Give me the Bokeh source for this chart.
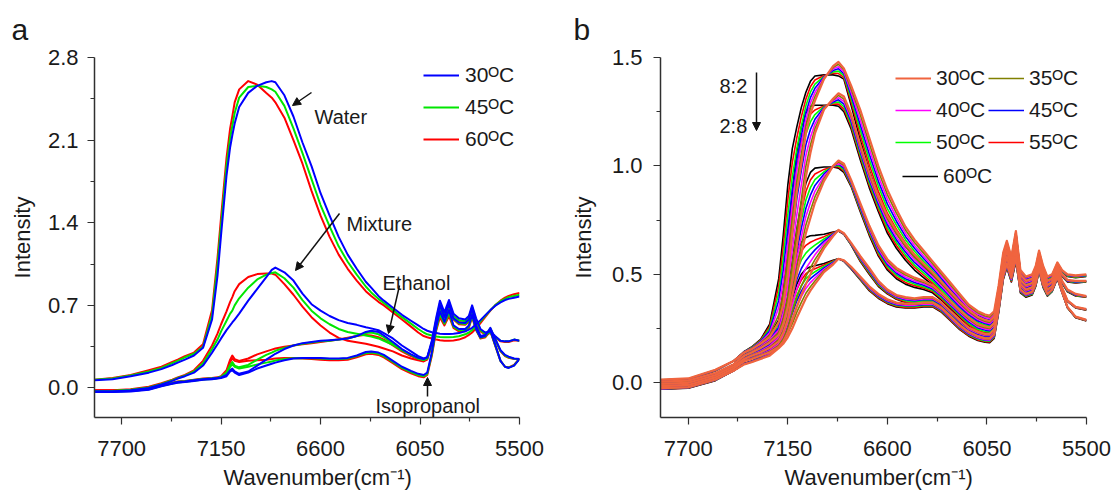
import math
from bokeh.plotting import figure
from bokeh.layouts import row
from bokeh.models import (Range1d, FixedTicker, PrintfTickFormatter, Label, Arrow,
                          NormalHead, Legend, LegendItem, Title)
from bokeh.embed import file_html
from bokeh.resources import INLINE

FONT = "Liberation Sans"
TXT = "#1a1a1a"

# ---------------- panel a data (wavenumber, intensity) ----------------
wn_a = [7850, 7750, 7650, 7550, 7480, 7420, 7390, 7350, 7300, 7250,
        7200, 7170, 7150, 7120, 7100, 7088, 7075, 7050, 7000, 6950,
        6900, 6870, 6850, 6800, 6750, 6700, 6650, 6600, 6550, 6500,
        6450, 6400, 6350, 6320, 6280, 6250, 6200, 6150, 6100, 6060,
        6030, 6010, 5985, 5960, 5940, 5915, 5890, 5865, 5835, 5800,
        5780, 5762, 5740, 5716, 5690, 5661, 5635, 5605, 5580, 5560,
        5530, 5500]
temps_a = ["30", "45", "60"]

water_30 = [0.065, 0.075, 0.10, 0.13, 0.16, 0.195, 0.215, 0.24, 0.275, 0.34,
            0.58, 0.95, 1.30, 1.80, 2.04, 2.14, 2.24, 2.38, 2.50, 2.56,
            2.59, 2.60, 2.59, 2.48, 2.30, 2.08, 1.88, 1.65, 1.46, 1.28,
            1.13, 1.01, 0.90, 0.85, 0.78, 0.74, 0.68, 0.62, 0.57, 0.53,
            0.50, 0.485, 0.472, 0.465, 0.46, 0.457, 0.457, 0.46, 0.465, 0.48,
            0.495, 0.51, 0.54, 0.575, 0.615, 0.66, 0.695, 0.725, 0.745, 0.755,
            0.765, 0.775]
water_45 = [0.07, 0.08, 0.105, 0.14, 0.17, 0.21, 0.23, 0.26, 0.29, 0.35,
            0.62, 1.04, 1.38, 1.88, 2.12, 2.22, 2.33, 2.46, 2.55, 2.56,
            2.55, 2.53, 2.51, 2.39, 2.20, 1.99, 1.77, 1.55, 1.37, 1.20,
            1.07, 0.96, 0.86, 0.81, 0.755, 0.72, 0.66, 0.60, 0.545, 0.50,
            0.47, 0.455, 0.445, 0.437, 0.432, 0.43, 0.43, 0.432, 0.438, 0.455,
            0.47, 0.49, 0.525, 0.565, 0.61, 0.66, 0.70, 0.735, 0.755, 0.77,
            0.78, 0.79]
water_60 = [0.07, 0.085, 0.11, 0.15, 0.18, 0.22, 0.24, 0.27, 0.30, 0.37,
            0.66, 1.10, 1.45, 1.95, 2.20, 2.30, 2.42, 2.53, 2.60, 2.57,
            2.50, 2.46, 2.42, 2.29, 2.10, 1.90, 1.67, 1.46, 1.28, 1.13,
            1.01, 0.91, 0.82, 0.78, 0.73, 0.70, 0.64, 0.58, 0.52, 0.47,
            0.44, 0.43, 0.42, 0.41, 0.405, 0.40, 0.40, 0.403, 0.41, 0.43,
            0.45, 0.47, 0.505, 0.55, 0.60, 0.655, 0.70, 0.74, 0.765, 0.78,
            0.795, 0.805]
mix_30 = [-0.03, -0.03, -0.02, 0.0, 0.03, 0.06, 0.08, 0.10, 0.13, 0.19,
          0.30, 0.37, 0.42, 0.49, 0.53, 0.555, 0.58, 0.63, 0.74, 0.84,
          0.94, 1.00, 1.02, 0.98, 0.91, 0.80, 0.71, 0.655, 0.61, 0.575,
          0.55, 0.535, 0.515, 0.505, 0.49, 0.465, 0.42, 0.36, 0.31, 0.27,
          0.25, 0.26, 0.40, 0.60, 0.74, 0.64, 0.745, 0.63, 0.59, 0.58,
          0.61, 0.70, 0.59, 0.50, 0.47, 0.48, 0.44, 0.40, 0.395, 0.395,
          0.41, 0.40]
mix_45 = [-0.025, -0.025, -0.015, 0.005, 0.035, 0.065, 0.085, 0.105, 0.14, 0.21,
          0.33, 0.41, 0.48, 0.57, 0.63, 0.655, 0.70, 0.76, 0.85, 0.92,
          0.96, 0.975, 0.98, 0.93, 0.85, 0.745, 0.655, 0.59, 0.54, 0.50,
          0.475, 0.46, 0.445, 0.435, 0.42, 0.40, 0.365, 0.32, 0.28, 0.25,
          0.237, 0.25, 0.385, 0.58, 0.72, 0.62, 0.725, 0.61, 0.575, 0.565,
          0.595, 0.685, 0.575, 0.49, 0.46, 0.47, 0.435, 0.40, 0.395, 0.395,
          0.41, 0.40]
mix_60 = [-0.02, -0.02, -0.01, 0.01, 0.04, 0.07, 0.09, 0.11, 0.15, 0.23,
          0.36, 0.46, 0.54, 0.65, 0.73, 0.77, 0.82, 0.88, 0.94, 0.965,
          0.97, 0.97, 0.96, 0.88, 0.79, 0.69, 0.60, 0.53, 0.47, 0.425,
          0.40, 0.387, 0.375, 0.365, 0.35, 0.335, 0.31, 0.275, 0.25, 0.235,
          0.225, 0.24, 0.37, 0.56, 0.70, 0.60, 0.705, 0.59, 0.56, 0.55,
          0.58, 0.67, 0.56, 0.48, 0.455, 0.465, 0.43, 0.395, 0.39, 0.39,
          0.405, 0.40]
eth_30 = [-0.03, -0.03, -0.025, -0.01, 0.02, 0.04, 0.05, 0.055, 0.065, 0.075,
          0.08, 0.085, 0.09, 0.11, 0.15, 0.165, 0.14, 0.12, 0.14, 0.19,
          0.24, 0.27, 0.29, 0.33, 0.36, 0.38, 0.39, 0.40, 0.405, 0.41,
          0.42, 0.44, 0.475, 0.485, 0.475, 0.445, 0.39, 0.33, 0.285, 0.255,
          0.245, 0.26, 0.38, 0.57, 0.70, 0.60, 0.71, 0.59, 0.555, 0.55,
          0.58, 0.67, 0.53, 0.44, 0.45, 0.49, 0.37, 0.23, 0.18, 0.17,
          0.19, 0.245]
eth_45 = [-0.025, -0.025, -0.02, -0.005, 0.022, 0.042, 0.052, 0.057, 0.067, 0.077,
          0.082, 0.087, 0.095, 0.13, 0.195, 0.22, 0.19, 0.175, 0.195, 0.24,
          0.28, 0.30, 0.315, 0.34, 0.36, 0.375, 0.385, 0.395, 0.40, 0.41,
          0.42, 0.44, 0.465, 0.47, 0.455, 0.43, 0.375, 0.32, 0.28, 0.25,
          0.24, 0.255, 0.37, 0.56, 0.68, 0.595, 0.70, 0.585, 0.548, 0.543,
          0.57, 0.655, 0.525, 0.435, 0.44, 0.485, 0.365, 0.23, 0.18, 0.172,
          0.192, 0.248]
eth_60 = [-0.02, -0.02, -0.015, 0.0, 0.025, 0.045, 0.055, 0.06, 0.07, 0.08,
          0.085, 0.09, 0.10, 0.15, 0.24, 0.275, 0.245, 0.23, 0.25, 0.285,
          0.31, 0.325, 0.335, 0.35, 0.36, 0.37, 0.38, 0.39, 0.40, 0.41,
          0.425, 0.44, 0.45, 0.445, 0.43, 0.41, 0.36, 0.31, 0.27, 0.245,
          0.235, 0.25, 0.36, 0.55, 0.665, 0.59, 0.69, 0.58, 0.54, 0.535,
          0.56, 0.64, 0.52, 0.43, 0.43, 0.48, 0.36, 0.23, 0.18, 0.175,
          0.195, 0.25]
iso_30 = [-0.035, -0.035, -0.03, -0.015, 0.015, 0.035, 0.045, 0.05, 0.06, 0.07,
          0.075, 0.08, 0.085, 0.10, 0.14, 0.15, 0.13, 0.11, 0.13, 0.165,
          0.19, 0.205, 0.215, 0.235, 0.25, 0.255, 0.255, 0.255, 0.25, 0.25,
          0.255, 0.275, 0.305, 0.31, 0.30, 0.28, 0.23, 0.18, 0.145, 0.12,
          0.11, 0.13, 0.30, 0.52, 0.65, 0.56, 0.66, 0.53, 0.50, 0.50,
          0.53, 0.62, 0.50, 0.43, 0.44, 0.51, 0.42, 0.32, 0.28, 0.265,
          0.25, 0.245]
iso_45 = [-0.03, -0.03, -0.025, -0.01, 0.017, 0.037, 0.047, 0.052, 0.062, 0.072,
          0.077, 0.082, 0.09, 0.115, 0.18, 0.20, 0.18, 0.165, 0.18, 0.20,
          0.215, 0.225, 0.232, 0.245, 0.252, 0.255, 0.252, 0.25, 0.245, 0.245,
          0.25, 0.27, 0.295, 0.30, 0.29, 0.27, 0.22, 0.17, 0.135, 0.11,
          0.10, 0.12, 0.285, 0.505, 0.625, 0.545, 0.635, 0.52, 0.49, 0.49,
          0.52, 0.61, 0.495, 0.425, 0.435, 0.505, 0.415, 0.315, 0.275, 0.26,
          0.248, 0.245]
iso_60 = [-0.025, -0.025, -0.02, -0.005, 0.02, 0.04, 0.05, 0.055, 0.065, 0.075,
          0.08, 0.085, 0.095, 0.13, 0.22, 0.25, 0.23, 0.22, 0.23, 0.235,
          0.24, 0.245, 0.25, 0.255, 0.255, 0.25, 0.245, 0.24, 0.235, 0.235,
          0.24, 0.26, 0.285, 0.29, 0.28, 0.26, 0.21, 0.16, 0.125, 0.10,
          0.09, 0.11, 0.27, 0.49, 0.60, 0.53, 0.61, 0.51, 0.48, 0.48,
          0.51, 0.60, 0.49, 0.42, 0.43, 0.50, 0.41, 0.31, 0.27, 0.255,
          0.245, 0.245]

# ---------------- panel b data: 5 mixing ratios (8:2 ... 2:8) x 7 temperatures ----------------
wn_b = [7850, 7700, 7550, 7450, 7390, 7350, 7300, 7250, 7200, 7175,
        7150, 7125, 7100, 7075, 7050, 7025, 7000, 6950, 6900, 6870,
        6840, 6800, 6750, 6700, 6650, 6600, 6550, 6500, 6450, 6400,
        6350, 6300, 6250, 6200, 6150, 6100, 6060, 6035, 6010, 5985,
        5960, 5940, 5915, 5890, 5865, 5835, 5800, 5780, 5762, 5740,
        5716, 5690, 5661, 5635, 5605, 5560, 5500]
temps_b = ["30", "35", "40", "45", "50", "55", "60"]

r1_30 = [0.015, 0.02, 0.06, 0.10, 0.14, 0.155, 0.18, 0.21, 0.28, 0.36,
         0.50, 0.69, 0.88, 1.01, 1.15, 1.24, 1.30, 1.40, 1.46, 1.48,
         1.45, 1.37, 1.26, 1.13, 1.00, 0.89, 0.80, 0.72, 0.66, 0.61,
         0.56, 0.51, 0.46, 0.41, 0.36, 0.33, 0.315, 0.31, 0.33, 0.45,
         0.60, 0.655, 0.58, 0.70, 0.52, 0.49, 0.50, 0.54, 0.61, 0.54,
         0.49, 0.50, 0.555, 0.52, 0.50, 0.495, 0.50]
r1_35 = [0.014, 0.019, 0.059, 0.10, 0.141, 0.157, 0.183, 0.22, 0.313, 0.413,
         0.568, 0.755, 0.93, 1.053, 1.182, 1.265, 1.319, 1.403, 1.453, 1.469,
         1.442, 1.355, 1.237, 1.105, 0.977, 0.868, 0.782, 0.705, 0.647, 0.598,
         0.549, 0.50, 0.45, 0.401, 0.353, 0.323, 0.308, 0.303, 0.323, 0.445,
         0.595, 0.651, 0.577, 0.697, 0.517, 0.487, 0.497, 0.537, 0.607, 0.537,
         0.488, 0.498, 0.553, 0.518, 0.498, 0.493, 0.498]
r1_40 = [0.013, 0.018, 0.058, 0.10, 0.142, 0.158, 0.187, 0.23, 0.347, 0.467,
         0.637, 0.82, 0.98, 1.097, 1.213, 1.29, 1.338, 1.407, 1.447, 1.458,
         1.433, 1.34, 1.213, 1.08, 0.953, 0.847, 0.763, 0.69, 0.633, 0.585,
         0.538, 0.49, 0.44, 0.392, 0.345, 0.317, 0.302, 0.297, 0.317, 0.44,
         0.59, 0.647, 0.573, 0.693, 0.513, 0.483, 0.493, 0.533, 0.603, 0.533,
         0.485, 0.495, 0.55, 0.517, 0.497, 0.492, 0.497]
r1_45 = [0.013, 0.018, 0.058, 0.10, 0.143, 0.16, 0.19, 0.24, 0.38, 0.52,
         0.705, 0.885, 1.03, 1.14, 1.245, 1.315, 1.358, 1.41, 1.44, 1.448,
         1.425, 1.325, 1.19, 1.055, 0.93, 0.825, 0.745, 0.675, 0.62, 0.573,
         0.528, 0.48, 0.43, 0.383, 0.338, 0.31, 0.295, 0.29, 0.31, 0.435,
         0.585, 0.643, 0.57, 0.69, 0.51, 0.48, 0.49, 0.53, 0.60, 0.53,
         0.483, 0.493, 0.548, 0.515, 0.495, 0.49, 0.495]
r1_50 = [0.012, 0.017, 0.057, 0.10, 0.143, 0.162, 0.193, 0.25, 0.413, 0.573,
         0.773, 0.95, 1.08, 1.183, 1.277, 1.34, 1.377, 1.413, 1.433, 1.437,
         1.417, 1.31, 1.167, 1.03, 0.907, 0.803, 0.727, 0.66, 0.607, 0.56,
         0.517, 0.47, 0.42, 0.373, 0.33, 0.303, 0.288, 0.283, 0.303, 0.43,
         0.58, 0.638, 0.567, 0.687, 0.507, 0.477, 0.487, 0.527, 0.597, 0.527,
         0.48, 0.49, 0.545, 0.513, 0.493, 0.488, 0.493]
r1_55 = [0.011, 0.016, 0.056, 0.10, 0.144, 0.163, 0.197, 0.26, 0.447, 0.627,
         0.842, 1.015, 1.13, 1.227, 1.308, 1.365, 1.396, 1.417, 1.427, 1.426,
         1.408, 1.295, 1.143, 1.005, 0.883, 0.782, 0.708, 0.645, 0.593, 0.548,
         0.506, 0.46, 0.41, 0.364, 0.323, 0.297, 0.282, 0.277, 0.297, 0.425,
         0.575, 0.634, 0.563, 0.683, 0.503, 0.473, 0.483, 0.523, 0.593, 0.523,
         0.478, 0.488, 0.543, 0.512, 0.492, 0.487, 0.492]
r1_60 = [0.01, 0.015, 0.055, 0.10, 0.145, 0.165, 0.20, 0.27, 0.48, 0.68,
         0.91, 1.08, 1.18, 1.27, 1.34, 1.39, 1.415, 1.42, 1.42, 1.415,
         1.40, 1.28, 1.12, 0.98, 0.86, 0.76, 0.69, 0.63, 0.58, 0.535,
         0.495, 0.45, 0.40, 0.355, 0.315, 0.29, 0.275, 0.27, 0.29, 0.42,
         0.57, 0.63, 0.56, 0.68, 0.50, 0.47, 0.48, 0.52, 0.59, 0.52,
         0.475, 0.485, 0.54, 0.51, 0.49, 0.485, 0.49]

r2_30 = [0.005, 0.01, 0.045, 0.085, 0.125, 0.14, 0.16, 0.185, 0.22, 0.27,
         0.35, 0.48, 0.63, 0.78, 0.95, 1.06, 1.15, 1.26, 1.31, 1.335,
         1.32, 1.24, 1.10, 0.97, 0.86, 0.77, 0.70, 0.64, 0.59, 0.55,
         0.51, 0.465, 0.42, 0.375, 0.335, 0.305, 0.29, 0.285, 0.305, 0.43,
         0.575, 0.635, 0.555, 0.675, 0.50, 0.47, 0.48, 0.52, 0.59, 0.52,
         0.47, 0.48, 0.54, 0.50, 0.475, 0.47, 0.47]
r2_35 = [0.004, 0.009, 0.044, 0.085, 0.126, 0.142, 0.163, 0.191, 0.232, 0.295,
         0.398, 0.547, 0.703, 0.847, 0.999, 1.096, 1.172, 1.263, 1.305, 1.325,
         1.308, 1.228, 1.088, 0.958, 0.848, 0.757, 0.687, 0.628, 0.578, 0.539,
         0.50, 0.456, 0.411, 0.367, 0.328, 0.298, 0.284, 0.279, 0.299, 0.425,
         0.57, 0.63, 0.551, 0.671, 0.497, 0.467, 0.477, 0.517, 0.587, 0.517,
         0.468, 0.478, 0.538, 0.498, 0.473, 0.468, 0.469]
r2_40 = [0.003, 0.008, 0.043, 0.085, 0.127, 0.143, 0.167, 0.197, 0.243, 0.32,
         0.447, 0.613, 0.775, 0.913, 1.048, 1.132, 1.193, 1.267, 1.30, 1.315,
         1.297, 1.217, 1.077, 0.947, 0.837, 0.743, 0.673, 0.615, 0.567, 0.528,
         0.49, 0.447, 0.402, 0.358, 0.32, 0.292, 0.278, 0.273, 0.293, 0.42,
         0.565, 0.625, 0.547, 0.667, 0.493, 0.463, 0.473, 0.513, 0.583, 0.513,
         0.465, 0.475, 0.535, 0.497, 0.472, 0.467, 0.468]
r2_45 = [0.003, 0.008, 0.043, 0.085, 0.128, 0.145, 0.17, 0.203, 0.255, 0.345,
         0.495, 0.68, 0.848, 0.98, 1.098, 1.168, 1.215, 1.27, 1.295, 1.305,
         1.285, 1.205, 1.065, 0.935, 0.825, 0.73, 0.66, 0.603, 0.555, 0.518,
         0.48, 0.438, 0.393, 0.35, 0.313, 0.285, 0.273, 0.268, 0.288, 0.415,
         0.56, 0.62, 0.543, 0.663, 0.49, 0.46, 0.47, 0.51, 0.58, 0.51,
         0.463, 0.473, 0.533, 0.495, 0.47, 0.465, 0.468]
r2_50 = [0.002, 0.007, 0.042, 0.085, 0.128, 0.147, 0.173, 0.208, 0.267, 0.37,
         0.543, 0.747, 0.92, 1.047, 1.147, 1.203, 1.237, 1.273, 1.29, 1.295,
         1.273, 1.193, 1.053, 0.923, 0.813, 0.717, 0.647, 0.59, 0.543, 0.507,
         0.47, 0.428, 0.383, 0.342, 0.305, 0.278, 0.267, 0.262, 0.282, 0.41,
         0.555, 0.615, 0.538, 0.658, 0.487, 0.457, 0.467, 0.507, 0.577, 0.507,
         0.46, 0.47, 0.53, 0.493, 0.468, 0.463, 0.467]
r2_55 = [0.001, 0.006, 0.041, 0.085, 0.129, 0.148, 0.177, 0.214, 0.278, 0.395,
         0.592, 0.813, 0.993, 1.113, 1.196, 1.239, 1.258, 1.277, 1.285, 1.285,
         1.262, 1.182, 1.042, 0.912, 0.802, 0.703, 0.633, 0.578, 0.532, 0.496,
         0.46, 0.419, 0.374, 0.333, 0.298, 0.272, 0.261, 0.256, 0.276, 0.405,
         0.55, 0.61, 0.534, 0.654, 0.483, 0.453, 0.463, 0.503, 0.573, 0.503,
         0.458, 0.468, 0.528, 0.492, 0.467, 0.462, 0.466]
r2_60 = [0.0, 0.005, 0.04, 0.085, 0.13, 0.15, 0.18, 0.22, 0.29, 0.42,
         0.64, 0.88, 1.065, 1.18, 1.245, 1.275, 1.28, 1.28, 1.28, 1.275,
         1.25, 1.17, 1.03, 0.90, 0.79, 0.69, 0.62, 0.565, 0.52, 0.485,
         0.45, 0.41, 0.365, 0.325, 0.29, 0.265, 0.255, 0.25, 0.27, 0.40,
         0.545, 0.605, 0.53, 0.65, 0.48, 0.45, 0.46, 0.50, 0.57, 0.50,
         0.455, 0.465, 0.525, 0.49, 0.465, 0.46, 0.465]

r3_30 = [-0.005, 0.0, 0.035, 0.075, 0.11, 0.125, 0.14, 0.16, 0.19, 0.23,
         0.29, 0.40, 0.50, 0.595, 0.69, 0.76, 0.83, 0.93, 1.00, 1.025,
         1.01, 0.935, 0.83, 0.725, 0.635, 0.57, 0.53, 0.505, 0.485, 0.47,
         0.45, 0.415, 0.375, 0.335, 0.30, 0.27, 0.26, 0.255, 0.275, 0.40,
         0.55, 0.61, 0.535, 0.645, 0.475, 0.45, 0.46, 0.50, 0.575, 0.50,
         0.45, 0.465, 0.53, 0.47, 0.43, 0.41, 0.40]
r3_35 = [-0.006, -0.001, 0.034, 0.075, 0.111, 0.127, 0.143, 0.165, 0.199, 0.242,
         0.308, 0.427, 0.535, 0.634, 0.728, 0.795, 0.857, 0.941, 0.999, 1.019,
         1.003, 0.93, 0.823, 0.718, 0.627, 0.562, 0.522, 0.497, 0.478, 0.463,
         0.444, 0.409, 0.369, 0.329, 0.293, 0.264, 0.254, 0.25, 0.27, 0.395,
         0.545, 0.605, 0.531, 0.641, 0.472, 0.447, 0.457, 0.497, 0.572, 0.497,
         0.448, 0.463, 0.528, 0.468, 0.428, 0.408, 0.399]
r3_40 = [-0.007, -0.002, 0.033, 0.075, 0.112, 0.128, 0.147, 0.17, 0.208, 0.253,
         0.327, 0.453, 0.57, 0.673, 0.767, 0.83, 0.883, 0.952, 0.998, 1.013,
         0.997, 0.925, 0.817, 0.71, 0.618, 0.553, 0.513, 0.488, 0.47, 0.457,
         0.438, 0.403, 0.363, 0.323, 0.287, 0.258, 0.248, 0.245, 0.265, 0.39,
         0.54, 0.60, 0.527, 0.637, 0.468, 0.443, 0.453, 0.493, 0.568, 0.493,
         0.445, 0.46, 0.525, 0.467, 0.427, 0.407, 0.398]
r3_45 = [-0.008, -0.003, 0.033, 0.075, 0.113, 0.13, 0.15, 0.175, 0.218, 0.265,
         0.345, 0.48, 0.605, 0.713, 0.805, 0.865, 0.91, 0.963, 0.998, 1.008,
         0.99, 0.92, 0.81, 0.703, 0.61, 0.545, 0.505, 0.48, 0.463, 0.45,
         0.433, 0.398, 0.358, 0.318, 0.28, 0.253, 0.243, 0.24, 0.26, 0.385,
         0.535, 0.595, 0.523, 0.633, 0.465, 0.44, 0.45, 0.49, 0.565, 0.49,
         0.443, 0.458, 0.523, 0.465, 0.425, 0.405, 0.398]
r3_50 = [-0.008, -0.003, 0.032, 0.075, 0.113, 0.132, 0.153, 0.18, 0.227, 0.277,
         0.363, 0.507, 0.64, 0.752, 0.843, 0.90, 0.937, 0.973, 0.997, 1.002,
         0.983, 0.915, 0.803, 0.695, 0.602, 0.537, 0.497, 0.472, 0.455, 0.443,
         0.427, 0.392, 0.352, 0.312, 0.273, 0.247, 0.237, 0.235, 0.255, 0.38,
         0.53, 0.59, 0.518, 0.628, 0.462, 0.437, 0.447, 0.487, 0.562, 0.487,
         0.44, 0.455, 0.52, 0.463, 0.423, 0.403, 0.397]
r3_55 = [-0.009, -0.004, 0.031, 0.075, 0.114, 0.133, 0.157, 0.185, 0.236, 0.288,
         0.382, 0.533, 0.675, 0.791, 0.882, 0.935, 0.963, 0.984, 0.996, 0.996,
         0.977, 0.91, 0.797, 0.688, 0.593, 0.528, 0.488, 0.463, 0.448, 0.437,
         0.421, 0.386, 0.346, 0.306, 0.267, 0.241, 0.231, 0.23, 0.25, 0.375,
         0.525, 0.585, 0.514, 0.624, 0.458, 0.433, 0.443, 0.483, 0.558, 0.483,
         0.438, 0.453, 0.518, 0.462, 0.422, 0.402, 0.396]
r3_60 = [-0.01, -0.005, 0.03, 0.075, 0.115, 0.135, 0.16, 0.19, 0.245, 0.30,
         0.40, 0.56, 0.71, 0.83, 0.92, 0.97, 0.99, 0.995, 0.995, 0.99,
         0.97, 0.905, 0.79, 0.68, 0.585, 0.52, 0.48, 0.455, 0.44, 0.43,
         0.415, 0.38, 0.34, 0.30, 0.26, 0.235, 0.225, 0.225, 0.245, 0.37,
         0.52, 0.58, 0.51, 0.62, 0.455, 0.43, 0.44, 0.48, 0.555, 0.48,
         0.435, 0.45, 0.515, 0.46, 0.42, 0.40, 0.395]

r4_30 = [-0.015, -0.01, 0.025, 0.065, 0.10, 0.11, 0.125, 0.14, 0.165, 0.19,
         0.23, 0.29, 0.35, 0.405, 0.455, 0.50, 0.545, 0.62, 0.675, 0.705,
         0.69, 0.645, 0.585, 0.53, 0.47, 0.43, 0.405, 0.395, 0.39, 0.395,
         0.395, 0.37, 0.33, 0.29, 0.255, 0.235, 0.225, 0.225, 0.245, 0.37,
         0.52, 0.58, 0.51, 0.615, 0.455, 0.43, 0.44, 0.48, 0.555, 0.48,
         0.43, 0.445, 0.51, 0.44, 0.38, 0.35, 0.34]
r4_35 = [-0.016, -0.011, 0.024, 0.065, 0.101, 0.112, 0.128, 0.144, 0.173, 0.203,
         0.253, 0.325, 0.392, 0.446, 0.491, 0.53, 0.568, 0.631, 0.678, 0.704,
         0.689, 0.643, 0.581, 0.525, 0.466, 0.427, 0.402, 0.391, 0.386, 0.391,
         0.391, 0.367, 0.327, 0.287, 0.252, 0.232, 0.222, 0.222, 0.242, 0.366,
         0.516, 0.576, 0.507, 0.611, 0.452, 0.427, 0.437, 0.477, 0.552, 0.478,
         0.428, 0.443, 0.508, 0.438, 0.379, 0.349, 0.339]
r4_40 = [-0.017, -0.012, 0.023, 0.065, 0.102, 0.113, 0.13, 0.148, 0.18, 0.217,
         0.277, 0.36, 0.433, 0.486, 0.527, 0.559, 0.59, 0.642, 0.682, 0.703,
         0.688, 0.642, 0.577, 0.52, 0.462, 0.423, 0.398, 0.387, 0.382, 0.387,
         0.387, 0.363, 0.323, 0.283, 0.248, 0.228, 0.218, 0.218, 0.238, 0.362,
         0.512, 0.572, 0.503, 0.607, 0.448, 0.423, 0.433, 0.473, 0.548, 0.475,
         0.425, 0.44, 0.505, 0.437, 0.378, 0.348, 0.338]
r4_45 = [-0.018, -0.013, 0.023, 0.065, 0.103, 0.115, 0.133, 0.153, 0.188, 0.23,
         0.30, 0.395, 0.475, 0.527, 0.563, 0.589, 0.613, 0.653, 0.685, 0.703,
         0.688, 0.64, 0.573, 0.515, 0.458, 0.42, 0.395, 0.383, 0.378, 0.383,
         0.383, 0.36, 0.32, 0.28, 0.245, 0.225, 0.215, 0.215, 0.235, 0.358,
         0.508, 0.568, 0.50, 0.603, 0.445, 0.42, 0.43, 0.47, 0.545, 0.473,
         0.423, 0.438, 0.503, 0.435, 0.378, 0.348, 0.338]
r4_50 = [-0.018, -0.013, 0.022, 0.065, 0.103, 0.117, 0.135, 0.157, 0.195, 0.243,
         0.323, 0.43, 0.517, 0.567, 0.598, 0.619, 0.635, 0.663, 0.688, 0.702,
         0.687, 0.638, 0.568, 0.51, 0.453, 0.417, 0.392, 0.378, 0.373, 0.378,
         0.378, 0.357, 0.317, 0.277, 0.242, 0.222, 0.212, 0.212, 0.232, 0.353,
         0.503, 0.563, 0.497, 0.598, 0.442, 0.417, 0.427, 0.467, 0.542, 0.47,
         0.42, 0.435, 0.50, 0.433, 0.377, 0.347, 0.337]
r4_55 = [-0.019, -0.014, 0.021, 0.065, 0.104, 0.118, 0.138, 0.161, 0.203, 0.257,
         0.347, 0.465, 0.558, 0.608, 0.634, 0.648, 0.658, 0.674, 0.692, 0.701,
         0.686, 0.637, 0.564, 0.505, 0.449, 0.413, 0.388, 0.374, 0.369, 0.374,
         0.374, 0.353, 0.313, 0.273, 0.238, 0.218, 0.208, 0.208, 0.228, 0.349,
         0.499, 0.559, 0.493, 0.594, 0.438, 0.413, 0.423, 0.463, 0.538, 0.468,
         0.418, 0.433, 0.498, 0.432, 0.376, 0.346, 0.336]
r4_60 = [-0.02, -0.015, 0.02, 0.065, 0.105, 0.12, 0.14, 0.165, 0.21, 0.27,
         0.37, 0.50, 0.60, 0.648, 0.67, 0.678, 0.68, 0.685, 0.695, 0.70,
         0.685, 0.635, 0.56, 0.50, 0.445, 0.41, 0.385, 0.37, 0.365, 0.37,
         0.37, 0.35, 0.31, 0.27, 0.235, 0.215, 0.205, 0.205, 0.225, 0.345,
         0.495, 0.555, 0.49, 0.59, 0.435, 0.41, 0.42, 0.46, 0.535, 0.465,
         0.415, 0.43, 0.495, 0.43, 0.375, 0.345, 0.335]

r5_30 = [-0.025, -0.02, 0.015, 0.055, 0.085, 0.095, 0.11, 0.125, 0.16, 0.18,
         0.21, 0.25, 0.30, 0.345, 0.39, 0.425, 0.455, 0.51, 0.545, 0.572,
         0.565, 0.535, 0.49, 0.445, 0.41, 0.385, 0.37, 0.365, 0.365, 0.37,
         0.37, 0.345, 0.305, 0.265, 0.235, 0.215, 0.205, 0.205, 0.225, 0.345,
         0.495, 0.55, 0.485, 0.58, 0.43, 0.41, 0.42, 0.46, 0.53, 0.455,
         0.41, 0.43, 0.49, 0.42, 0.35, 0.305, 0.29]
r5_35 = [-0.026, -0.021, 0.014, 0.055, 0.086, 0.096, 0.112, 0.128, 0.168, 0.192,
         0.228, 0.273, 0.326, 0.371, 0.413, 0.443, 0.469, 0.517, 0.548, 0.572,
         0.564, 0.533, 0.488, 0.442, 0.407, 0.382, 0.367, 0.362, 0.362, 0.367,
         0.367, 0.342, 0.302, 0.262, 0.232, 0.212, 0.202, 0.202, 0.222, 0.342,
         0.492, 0.547, 0.482, 0.577, 0.428, 0.408, 0.418, 0.458, 0.528, 0.453,
         0.408, 0.428, 0.488, 0.419, 0.349, 0.304, 0.289]
r5_40 = [-0.027, -0.022, 0.013, 0.055, 0.087, 0.097, 0.113, 0.132, 0.175, 0.203,
         0.247, 0.297, 0.352, 0.397, 0.435, 0.462, 0.483, 0.523, 0.552, 0.572,
         0.563, 0.532, 0.485, 0.438, 0.403, 0.378, 0.363, 0.358, 0.358, 0.363,
         0.363, 0.338, 0.298, 0.258, 0.228, 0.208, 0.199, 0.198, 0.218, 0.338,
         0.488, 0.543, 0.478, 0.573, 0.425, 0.405, 0.415, 0.455, 0.525, 0.45,
         0.407, 0.427, 0.487, 0.418, 0.348, 0.303, 0.288]
r5_45 = [-0.028, -0.023, 0.013, 0.055, 0.088, 0.098, 0.115, 0.135, 0.183, 0.215,
         0.265, 0.32, 0.378, 0.423, 0.458, 0.48, 0.498, 0.53, 0.555, 0.572,
         0.563, 0.53, 0.483, 0.435, 0.40, 0.375, 0.36, 0.355, 0.355, 0.36,
         0.36, 0.335, 0.295, 0.255, 0.225, 0.205, 0.196, 0.195, 0.215, 0.335,
         0.485, 0.54, 0.475, 0.57, 0.423, 0.403, 0.413, 0.453, 0.523, 0.448,
         0.405, 0.425, 0.485, 0.418, 0.348, 0.303, 0.288]
r5_50 = [-0.028, -0.023, 0.012, 0.055, 0.088, 0.098, 0.117, 0.138, 0.19, 0.227,
         0.283, 0.343, 0.403, 0.448, 0.48, 0.498, 0.512, 0.537, 0.558, 0.572,
         0.562, 0.528, 0.48, 0.432, 0.397, 0.372, 0.357, 0.352, 0.352, 0.357,
         0.357, 0.332, 0.292, 0.252, 0.222, 0.202, 0.193, 0.192, 0.212, 0.332,
         0.482, 0.537, 0.472, 0.567, 0.42, 0.40, 0.41, 0.45, 0.52, 0.445,
         0.403, 0.423, 0.483, 0.417, 0.347, 0.302, 0.287]
r5_55 = [-0.029, -0.024, 0.011, 0.055, 0.089, 0.099, 0.118, 0.142, 0.198, 0.238,
         0.302, 0.367, 0.429, 0.474, 0.503, 0.517, 0.526, 0.543, 0.562, 0.572,
         0.561, 0.527, 0.478, 0.428, 0.393, 0.368, 0.353, 0.348, 0.348, 0.353,
         0.353, 0.328, 0.288, 0.248, 0.218, 0.198, 0.19, 0.188, 0.208, 0.328,
         0.478, 0.533, 0.468, 0.563, 0.418, 0.398, 0.408, 0.448, 0.518, 0.443,
         0.402, 0.422, 0.482, 0.416, 0.346, 0.301, 0.286]
r5_60 = [-0.03, -0.025, 0.01, 0.055, 0.09, 0.10, 0.12, 0.145, 0.205, 0.25,
         0.32, 0.39, 0.455, 0.50, 0.525, 0.535, 0.54, 0.55, 0.565, 0.572,
         0.56, 0.525, 0.475, 0.425, 0.39, 0.365, 0.35, 0.345, 0.345, 0.35,
         0.35, 0.325, 0.285, 0.245, 0.215, 0.195, 0.187, 0.185, 0.205, 0.325,
         0.475, 0.53, 0.465, 0.56, 0.415, 0.395, 0.405, 0.445, 0.515, 0.44,
         0.40, 0.42, 0.48, 0.415, 0.345, 0.30, 0.285]

# ---------------- assemble ----------------
series_a = {
    "30": [water_30, mix_30, eth_30, iso_30],
    "45": [water_45, mix_45, eth_45, iso_45],
    "60": [water_60, mix_60, eth_60, iso_60],
}
series_b = {
    "30": [r1_30, r2_30, r3_30, r4_30, r5_30],
    "35": [r1_35, r2_35, r3_35, r4_35, r5_35],
    "40": [r1_40, r2_40, r3_40, r4_40, r5_40],
    "45": [r1_45, r2_45, r3_45, r4_45, r5_45],
    "50": [r1_50, r2_50, r3_50, r4_50, r5_50],
    "55": [r1_55, r2_55, r3_55, r4_55, r5_55],
    "60": [r1_60, r2_60, r3_60, r4_60, r5_60],
}
for t, lst in series_a.items():
    for i, s in enumerate(lst):
        if len(s) != len(wn_a):
            raise ValueError(f"panel a {t} #{i}: {len(s)} != {len(wn_a)}")
for t, lst in series_b.items():
    for i, s in enumerate(lst):
        if len(s) != len(wn_b):
            raise ValueError(f"panel b {t} #{i}: {len(s)} != {len(wn_b)}")

colors_a = {"30": "#0000FF", "45": "#00E600", "60": "#FF0000"}
colors_b = {"30": "#F0643F", "35": "#808000", "40": "#FF00FF", "45": "#0000FF",
            "50": "#00FF00", "55": "#FF0000", "60": "#000000"}
DEG = "\u1d3cC"
XTITLE = "Wavenumber(cm\u207b\u00b9)"


def style(p, xt, xm, yt, ym, yfmt, ystandoff, ylabel_standoff, xtitle_offset):
    p.grid.visible = False
    p.outline_line_color = None
    p.background_fill_color = "white"
    p.border_fill_color = "white"
    p.xaxis.ticker = FixedTicker(ticks=xt, minor_ticks=xm)
    p.yaxis.ticker = FixedTicker(ticks=yt, minor_ticks=ym)
    p.xaxis.formatter = PrintfTickFormatter(format="%d")
    p.yaxis.formatter = PrintfTickFormatter(format=yfmt)
    for ax in (p.xaxis[0], p.yaxis[0]):
        ax.axis_line_color = "#303030"
        ax.axis_line_width = 1.5
        ax.major_tick_line_color = "#303030"
        ax.minor_tick_line_color = "#303030"
        ax.major_tick_line_width = 1.2
        ax.minor_tick_line_width = 1.2
        ax.major_tick_out = 7
        ax.major_tick_in = 0
        ax.minor_tick_out = 4
        ax.minor_tick_in = 0
        ax.major_label_text_font = FONT
        ax.major_label_text_font_size = "22px"
        ax.major_label_text_color = TXT
        ax.axis_label_text_font = FONT
        ax.axis_label_text_font_size = "22px"
        ax.axis_label_text_font_style = "normal"
        ax.axis_label_text_color = TXT
    p.xaxis[0].major_label_standoff = 16
    p.yaxis[0].major_label_standoff = ystandoff
    p.yaxis[0].axis_label = "Intensity"
    p.yaxis[0].axis_label_standoff = ylabel_standoff
    p.add_layout(Title(text=XTITLE, align="left", offset=xtitle_offset, standoff=8,
                       text_font=FONT, text_font_size="22px", text_font_style="normal",
                       text_color=TXT, vertical_align="bottom"), "below")


def panel_title(p, text, offset):
    p.title.text = text
    p.title.text_font = FONT
    p.title.text_font_size = "30px"
    p.title.text_font_style = "normal"
    p.title.text_color = TXT
    p.title.align = "left"
    p.title.vertical_align = "top"
    p.title.offset = offset
    p.title.standoff = 20


def lab(p, x, y, text, size):
    p.add_layout(Label(x=x, y=y, x_units="screen", y_units="screen", text=text,
                       text_font=FONT, text_font_size=f"{size}px", text_color=TXT,
                       text_align="left", text_baseline="alphabetic"))


def arrow(p, x0, y0, x1, y1):
    p.add_layout(Arrow(x_start=x0, y_start=y0, x_end=x1, y_end=y1,
                       start_units="screen", end_units="screen",
                       line_color="#111111", line_width=1.5,
                       end=NormalHead(size=8, fill_color="#111111", line_color="#111111")))


# ---------------- panel a ----------------
pa = figure(width=560, height=496, output_backend="svg", toolbar_location=None,
            x_range=Range1d(7850, 5500), y_range=Range1d(-0.25, 2.8),
            min_border_left=94, min_border_right=41, min_border_top=57, min_border_bottom=79)
style(pa, [7700, 7150, 6600, 6050, 5500], [7425, 6875, 6325, 5775],
      [0.0, 0.7, 1.4, 2.1, 2.8], [0.35, 1.05, 1.75, 2.45], "%.1f", 9, 10, 129)
panel_title(pa, "a", -83)

leg_r_a = {}
for t in ["60", "45", "30"]:
    for k, s in enumerate(series_a[t]):
        r = pa.line(wn_a, s, line_color=colors_a[t], line_width=2.0, line_join="round")
        if k == 0:
            leg_r_a[t] = r

leg_a = Legend(items=[LegendItem(label=t + DEG, renderers=[leg_r_a[t]]) for t in temps_a],
               location=(329, 266), orientation="vertical", padding=0, margin=0, spacing=8,
               glyph_width=36, glyph_height=24, label_height=24, label_standoff=6,
               label_text_font=FONT, label_text_font_size="21px", label_text_color=TXT,
               border_line_color=None, background_fill_alpha=0)
pa.add_layout(leg_a)

lab(pa, 220, 301, "Water", 20)
arrow(pa, 217, 325, 198, 312)
lab(pa, 252, 194, "Mixture", 20)
arrow(pa, 245, 204, 201, 147)
lab(pa, 288, 135, "Ethanol", 20)
arrow(pa, 305, 132, 294, 84)
lab(pa, 281, 12, "Isopropanol", 20)
arrow(pa, 333, 21, 333, 40)

# ---------------- panel b ----------------
pb = figure(width=556, height=496, output_backend="svg", toolbar_location=None,
            x_range=Range1d(7853, 5500), y_range=Range1d(-0.16, 1.5),
            min_border_left=100, min_border_right=30, min_border_top=57, min_border_bottom=79)
style(pb, [7700, 7150, 6600, 6050, 5500], [7425, 6875, 6325, 5775],
      [0.0, 0.5, 1.0, 1.5], [0.25, 0.75, 1.25], "%.1f", 11, 13, 124)
panel_title(pb, "b", -87)

leg_r_b = {}
for t in ["60", "55", "50", "45", "40", "35", "30"]:
    w = 2.2 if t == "30" else 1.6
    for k, s in enumerate(series_b[t]):
        r = pb.line(wn_b, s, line_color=colors_b[t], line_width=w, line_join="round")
        if k == 0:
            leg_r_b[t] = r


def legend_b(ts, loc):
    return Legend(items=[LegendItem(label=t + DEG, renderers=[leg_r_b[t]]) for t in ts],
                  location=loc, orientation="vertical", padding=0, margin=0, spacing=8,
                  glyph_width=36, glyph_height=24, label_height=24, label_standoff=5,
                  label_text_font=FONT, label_text_font_size="21px", label_text_color=TXT,
                  border_line_color=None, background_fill_alpha=0)


pb.add_layout(legend_b(["30", "40", "50"], (235, 263)))
pb.add_layout(legend_b(["35", "45", "55"], (328, 263)))
pb.add_layout(legend_b(["60"], (242, 229)))

lab(pb, 59, 332, "8:2", 20)
lab(pb, 59, 292, "2:8", 20)
arrow(pb, 96, 345, 96, 287)

layout = row(pa, pb)
open("out.html", "w").write(file_html(layout, INLINE, title="NIR spectra"))
